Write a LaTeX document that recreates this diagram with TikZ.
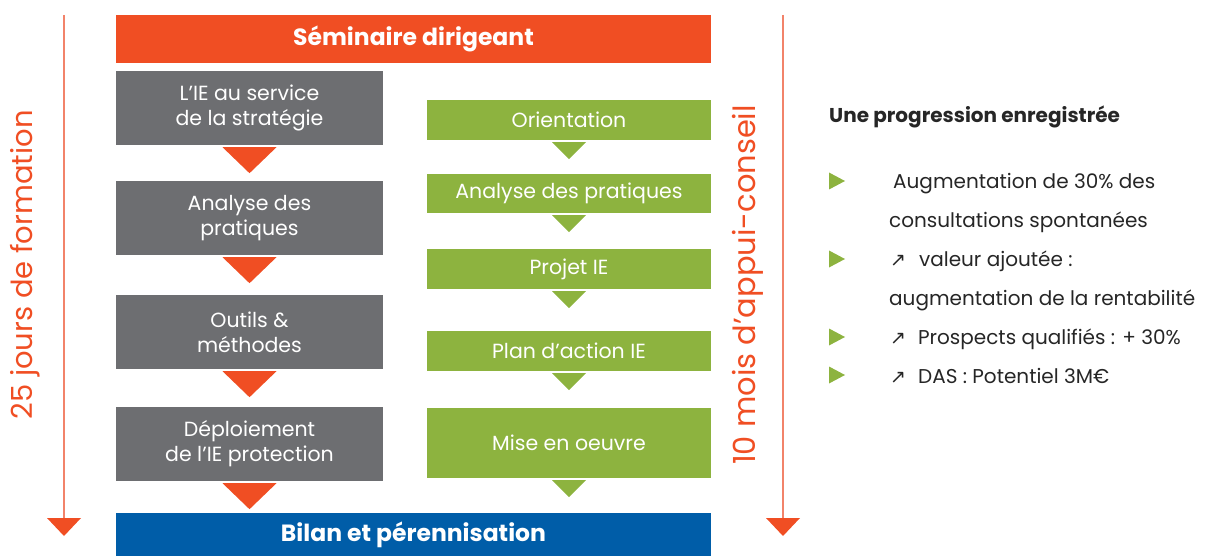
\documentclass[tikz,border=0pt]{standalone}
\usepackage{fontspec}
\setmainfont{Poppins}
\newfontfamily\symfont{DejaVu Sans}
\usetikzlibrary{calc}
\definecolor{cOrange}{HTML}{F04E23}
\definecolor{cArrowLine}{HTML}{F2836A}
\definecolor{cGray}{HTML}{6D6E71}
\definecolor{cGreen}{HTML}{8DB33F}
\definecolor{cBlue}{HTML}{005DA8}
\definecolor{cText}{HTML}{262626}
\tikzset{
  banner/.style={fill=#1, text=white, inner sep=0pt, minimum width=595pt,
    font=\fontsize{23.5}{26}\selectfont\bfseries},
  graybox/.style={fill=cGray, text=white, inner sep=0pt, align=center,
    minimum width=267pt, minimum height=74pt, font=\fontsize{20.5}{25}\selectfont},
  greenbox/.style={fill=cGreen, text=white, inner sep=0pt, align=center,
    minimum width=284pt, font=\fontsize{20.5}{25}\selectfont},
  sidelabel/.style={rotate=90, text=cOrange, inner sep=0pt, font=\fontsize{29}{30}\selectfont},
  timeline/.style={draw=cArrowLine, line width=2.2pt},
  paneltext/.style={anchor=base west, inner sep=0pt, text=cText, font=\fontsize{20}{22}\selectfont},
}
\newcommand{\graytri}[1]{\fill[cOrange] ($(#1.south)+(-27,2)$) -- ++(54,0) -- ++(-27,26) -- cycle;}
\newcommand{\greentri}[1]{\fill[cGreen] ($(#1.south)+(-17,2)$) -- ++(34,0) -- ++(-17,17) -- cycle;}
\newcommand{\headtri}[1]{\fill[cOrange] ($(#1)+(-17,-18)$) -- ++(34,0) -- ++(-17,18) -- cycle;}
\newcommand{\bullettri}[1]{\fill[cGreen] ($(#1)+(-8,-8.5)$) -- ++(16,8.5) -- ++(-16,8.5) -- cycle;}
\newcommand{\upar}{{\symfont\fontsize{19}{19}\selectfont ↗}}
\begin{document}
\begin{tikzpicture}[x=1pt,y=-1pt]
\useasboundingbox (0,0) rectangle (1221,556);
% banners
\node[banner=cOrange, minimum height=48pt] (top) at (413.5,39) {Séminaire dirigeant};
\node[banner=cBlue, minimum height=43pt] (bottom) at (413.5,534.5) {\raisebox{-3pt}{Bilan et pérennisation}};
% gray column
\node[graybox] (g1) at (249.5,108) {\raisebox{-2pt}{\parbox{260pt}{\centering L'IE au service\\de la stratégie}}};
\node[graybox] (g2) at (249.5,218) {\raisebox{-2pt}{\parbox{260pt}{\centering Analyse des\\pratiques}}};
\node[graybox] (g3) at (249.5,332) {Outils \&\\méthodes};
\node[graybox] (g4) at (249.5,444) {Déploiement\\de l'IE protection};
\graytri{g1}\graytri{g2}\graytri{g3}\graytri{g4}
% green column
\node[greenbox, minimum height=40pt] (v1) at (569,120) {Orientation};
\node[greenbox, minimum height=39pt] (v2) at (569,193.5) {Analyse des pratiques};
\node[greenbox, minimum height=40pt] (v3) at (569,269) {Projet IE};
\node[greenbox, minimum height=40pt] (v4) at (569,351) {Plan d'action IE};
\node[greenbox, minimum height=70pt] (v5) at (569,443) {Mise en oeuvre};
\greentri{v1}\greentri{v2}\greentri{v3}\greentri{v4}\greentri{v5}
% timelines
\coordinate (l1) at (64,15);
\coordinate (l2) at (64,536);
\coordinate (r1) at (783,15);
\coordinate (r2) at (783,536);
\draw[timeline] (l1) -- ($(l2)+(0,-16)$);
\headtri{l2}
\draw[timeline] (r1) -- ($(r2)+(0,-16)$);
\headtri{r2}
\node[sidelabel] (lt) at (25.5,265) {25 jours de formation};
\node[sidelabel, font=\fontsize{30.5}{31}\selectfont] (rt) at (748,285) {10 mois d'appui-conseil};
% right panel
\node[paneltext, font=\fontsize{20}{22}\selectfont\bfseries] (title) at (829,123) {Une progression enregistrée};
\coordinate (b1) at (837,181);
\coordinate (b2) at (837,259);
\coordinate (b3) at (837,337);
\coordinate (b4) at (837,375);
\bullettri{b1}\bullettri{b2}\bullettri{b3}\bullettri{b4}
\node[paneltext] (t1) at (893,189) {Augmentation de 30\% des};
\node[paneltext] (t1b) at (889,228) {consultations spontanées};
\node[paneltext] (t2) at (890,266) {\upar\hspace{13pt}valeur ajoutée :};
\node[paneltext] (t2b) at (889,305) {augmentation de la rentabilité};
\node[paneltext] (t3) at (890,344) {\upar\hspace{12pt}Prospects qualifiés : + 30\%};
\node[paneltext] (t4) at (890,383) {\upar\hspace{12pt}DAS : Potentiel 3M€};
\end{tikzpicture}
\end{document}
